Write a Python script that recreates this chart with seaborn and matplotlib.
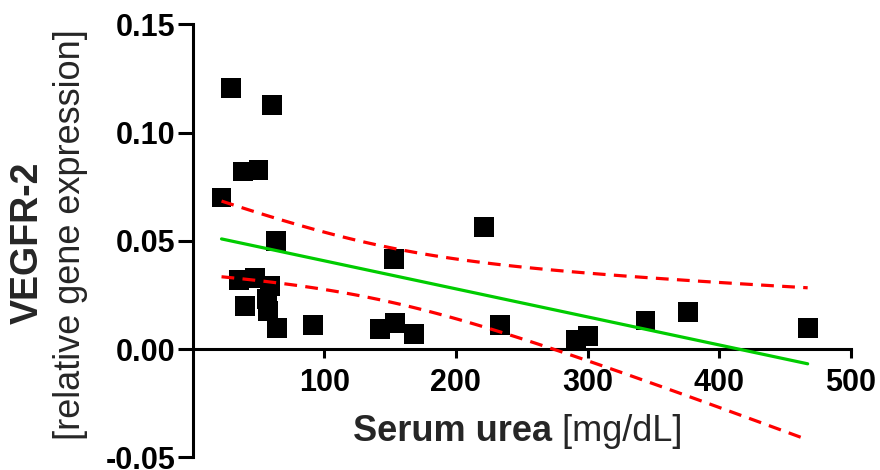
import numpy as np
import pandas as pd
import matplotlib
matplotlib.use("Agg")
import matplotlib.pyplot as plt
import seaborn as sns

# ---- data ----
serum_urea = [21.9, 29.2, 38.5, 50.0, 60.5, 63.2, 35.4, 47.5, 58.9, 56.6, 57.4, 39.6,
              64.2, 91.4, 142.4, 153.5, 168.4, 153.1, 221.5, 233.8, 291.3, 300.2,
              344.1, 376.1, 467.3]
vegfr2 = [0.0700, 0.1207, 0.0820, 0.0829, 0.1127, 0.0501, 0.0318, 0.0327, 0.0290,
          0.0230, 0.0175, 0.0198, 0.0097, 0.0113, 0.0092, 0.0120, 0.0070, 0.0417,
          0.0562, 0.0112, 0.0042, 0.0061, 0.0132, 0.0171, 0.0098]
x_ticks = [100, 200, 300, 400, 500]
x_tick_labels = ["100", "200", "300", "400", "500"]
y_ticks = [-0.05, 0.00, 0.05, 0.10, 0.15]
y_tick_labels = ["-0.05", "0.00", "0.05", "0.10", "0.15"]

# ---- linear regression with 95% confidence band ----
x = np.array(serum_urea)
y = np.array(vegfr2)
n = len(x)
slope, intercept = np.polyfit(x, y, 1)
xs = np.linspace(x.min(), x.max(), 120)
yhat = intercept + slope * xs
resid = y - (intercept + slope * x)
s_err = np.sqrt(np.sum(resid ** 2) / (n - 2))
sxx = np.sum((x - x.mean()) ** 2)
t_crit = 2.069  # t(0.975, df=23)
se = s_err * np.sqrt(1.0 / n + (xs - x.mean()) ** 2 / sxx)
fit = pd.DataFrame({"x": xs, "fit": yhat, "upper": yhat + t_crit * se, "lower": yhat - t_crit * se})
pts = pd.DataFrame({"urea": serum_urea, "vegfr2": vegfr2})

sns.set_theme(style="white")
plt.rcParams["font.family"] = ["Liberation Sans", "DejaVu Sans"]

W, H = 880, 470
fig = plt.figure(figsize=(W / 100, H / 100), dpi=100)
ax = fig.add_axes([192.7 / W, (H - 457.3) / H, (850.7 - 192.7) / W, (457.3 - 24.3) / H])

sns.scatterplot(data=pts, x="urea", y="vegfr2", marker="s", s=205, color="black",
                edgecolor="none", linewidth=0, ax=ax, zorder=2, clip_on=False)
sns.lineplot(data=fit, x="x", y="fit", color="#00CC00", linewidth=2.3, ax=ax, zorder=3)
for col in ["upper", "lower"]:
    sns.lineplot(data=fit, x="x", y=col, color="#FF0000", linewidth=2.3,
                 linestyle=(0, (4, 2.6)), ax=ax, zorder=3)

ax.set_xlim(0, 500)
ax.set_ylim(-0.05, 0.15)
ax.spines["top"].set_visible(False)
ax.spines["right"].set_visible(False)
ax.spines["bottom"].set_position(("data", 0))
for sp in ["left", "bottom"]:
    ax.spines[sp].set_linewidth(2.2)
    ax.spines[sp].set_color("black")

ax.set_xticks(x_ticks)
ax.set_xticklabels(x_tick_labels, fontsize=22, fontweight="bold")
ax.set_yticks(y_ticks)
ax.set_yticklabels(y_tick_labels, fontsize=22, fontweight="bold")
ax.tick_params(axis="y", left=True, length=11, width=2.2, pad=1.5, direction="out",
               color="black", labelcolor="black")
ax.tick_params(axis="x", bottom=True, length=6.5, width=2.2, pad=7, direction="out",
               color="black", labelcolor="black")
ax.set_xlabel("")
ax.set_ylabel("")

# x label: bold + regular parts
fig.text(552 / W, (H - 441) / H, "Serum urea", fontsize=26, fontweight="bold",
         ha="right", va="baseline")
fig.text(552 / W, (H - 441) / H, " [mg/dL]", fontsize=26, ha="left", va="baseline")

# y label: two lines, rotated
fig.text(38 / W, (H - 242.5) / H, "VEGFR-2", fontsize=27, fontweight="bold",
         rotation=90, rotation_mode="anchor", ha="center", va="baseline")
fig.text(80 / W, (H - 235) / H, "[relative gene expression]", fontsize=26,
         rotation=90, rotation_mode="anchor", ha="center", va="baseline")

fig.savefig("out.png", dpi=100)
